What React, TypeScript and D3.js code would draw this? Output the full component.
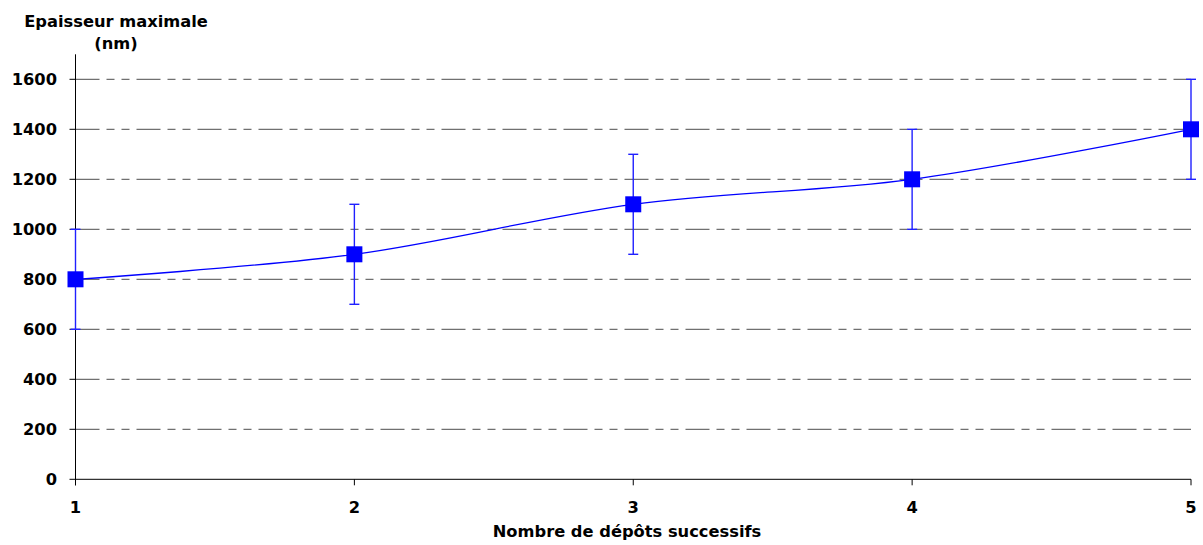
import React from "react";
import * as d3 from "d3";

const categories = [1, 2, 3, 4, 5];
const values = [800, 900, 1100, 1200, 1400];
const errors = [200, 200, 200, 200, 200];
const yTicks = [0, 200, 400, 600, 800, 1000, 1200, 1400, 1600];

const W = 1203;
const H = 545;
const FONT = "Verdana, 'DejaVu Sans', sans-serif";
const FS = 16.3;

export default function App() {
  const x = d3.scaleLinear().domain([1, 5]).range([75.5, 1191]);
  const y = d3.scaleLinear().domain([0, 1600]).range([479.3, 79.3]);
  const pts: [number, number][] = categories.map((c, i) => [x(c), y(values[i])]);
  const line = d3.line().curve(d3.curveCatmullRom.alpha(0))(pts) || "";

  return (
    <svg width={W} height={H} style={{ position: "absolute", left: 0, top: 0, background: "#fff" }}>
      <g fontFamily={FONT} fontWeight="bold" fill="#000">
        {yTicks.filter((t) => t > 0).map((t) => (
          <line key={"g" + t} x1={x(1)} x2={x(5)} y1={y(t)} y2={y(t)}
            stroke="#4d4d4d" strokeWidth={1} strokeDasharray="24,7,8,7,8,7" />
        ))}
        <line x1={x(1)} x2={x(1)} y1={y(1600) - 25} y2={y(0) + 6} stroke="#000" strokeWidth={1} />
        <line x1={x(1)} x2={x(5)} y1={y(0)} y2={y(0)} stroke="#000" strokeWidth={1} />
        {yTicks.map((t) => (
          <g key={"t" + t}>
            <line x1={x(1) - 6} x2={x(1)} y1={y(t)} y2={y(t)} stroke="#000" />
            <text x={57} y={y(t) + 6} textAnchor="end" fontSize={FS}>{t}</text>
          </g>
        ))}
        {categories.map((c) => (
          <g key={"x" + c}>
            <line x1={x(c)} x2={x(c)} y1={y(0)} y2={y(0) + 6} stroke="#000" />
            <text x={x(c)} y={513} textAnchor="middle" fontSize={FS}>{c}</text>
          </g>
        ))}
        <text x={116} y={27} textAnchor="middle" fontSize={FS}>Epaisseur maximale</text>
        <text x={116} y={49} textAnchor="middle" fontSize={FS}>(nm)</text>
        <text x={627} y={537} textAnchor="middle" fontSize={FS}>Nombre de dépôts successifs</text>
      </g>
      <path d={line} fill="none" stroke="#0000ff" strokeWidth={1.3} />
      {categories.map((c, i) => (
        <g key={"e" + c} stroke="#2020ff" strokeWidth={1.4}>
          <line x1={x(c)} x2={x(c)} y1={y(values[i] - errors[i])} y2={y(values[i] + errors[i])} />
          <line x1={x(c) - 5} x2={x(c) + 5} y1={y(values[i] - errors[i])} y2={y(values[i] - errors[i])} />
          <line x1={x(c) - 5} x2={x(c) + 5} y1={y(values[i] + errors[i])} y2={y(values[i] + errors[i])} />
        </g>
      ))}
      {categories.map((c, i) => (
        <rect key={"m" + c} x={x(c) - 8} y={y(values[i]) - 8} width={16} height={16} fill="#0000ff" />
      ))}
    </svg>
  );
}
